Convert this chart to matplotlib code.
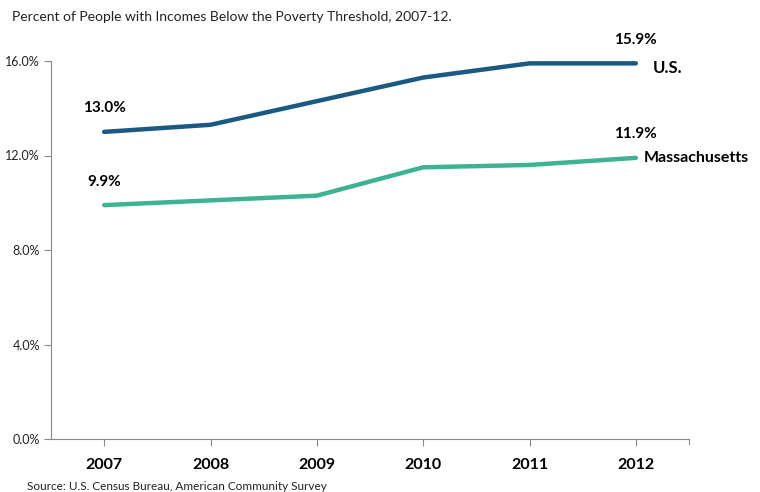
import matplotlib.pyplot as plt

plt.rcParams['font.family'] = ['Lato', 'DejaVu Sans']

years = ['2007', '2008', '2009', '2010', '2011', '2012']
us = [13.0, 13.3, 14.3, 15.3, 15.9, 15.9]
mass = [9.9, 10.1, 10.3, 11.5, 11.6, 11.9]
y_ticks = [0, 4, 8, 12, 16]

US_COLOR = '#1a5a82'
MA_COLOR = '#3db393'

fig = plt.figure(figsize=(7.6, 4.92), dpi=100)
ax = fig.add_axes([51 / 760, 1 - 439 / 492, (689 - 51) / 760, (439 - 61) / 492])

x = list(range(len(years)))
ax.plot(x, us, color=US_COLOR, lw=3.2, solid_capstyle='round')
ax.plot(x, mass, color=MA_COLOR, lw=3.2, solid_capstyle='round')

ax.set_xlim(-0.5, 5.5)
ax.set_ylim(0, 16)
ax.set_xticks(x)
ax.set_xticklabels(years, fontsize=11.5, fontweight='bold')
ax.set_yticks(y_ticks)
ax.set_yticklabels(['%.1f%%' % v for v in y_ticks], fontsize=9, color='#222222')
ax.tick_params(axis='x', length=5, width=0.8, color='#888888', pad=9)
ax.tick_params(axis='y', length=5, width=0.8, color='#888888', pad=3)

for s in ['top', 'right']:
    ax.spines[s].set_visible(False)
for s in ['left', 'bottom']:
    ax.spines[s].set_color('#888888')
    ax.spines[s].set_linewidth(0.8)

# end tick on the right of the x axis
ax.plot([5.5, 5.5], [0, -0.2], color='#888888', lw=0.8, clip_on=False)

# value labels
lab = dict(fontsize=11, fontweight='bold', ha='center', va='bottom')
ax.text(x[0], us[0] + 0.7, '%.1f%%' % us[0], **lab)
ax.text(x[0], mass[0] + 0.7, '%.1f%%' % mass[0], **lab)
ax.text(x[-1], us[-1] + 0.7, '%.1f%%' % us[-1], **lab)
ax.text(x[-1], mass[-1] + 0.7, '%.1f%%' % mass[-1], **lab)

# series names
ax.text(x[-1] + 0.16, us[-1] - 0.2, 'U.S.', fontsize=12, fontweight='bold', va='center')
ax.text(x[-1] + 0.07, mass[-1], 'Massachusetts', fontsize=11.5, fontweight='bold', va='center')

fig.text(12 / 760, 1 - 17 / 492, 'Percent of People with Incomes Below the Poverty Threshold, 2007-12.',
         fontsize=10, color='#222222', va='center')
fig.text(27 / 760, 1 - 486 / 492, 'Source: U.S. Census Bureau, American Community Survey',
         fontsize=8.5, color='#222222', va='center')

fig.savefig('out.png', dpi=100)
